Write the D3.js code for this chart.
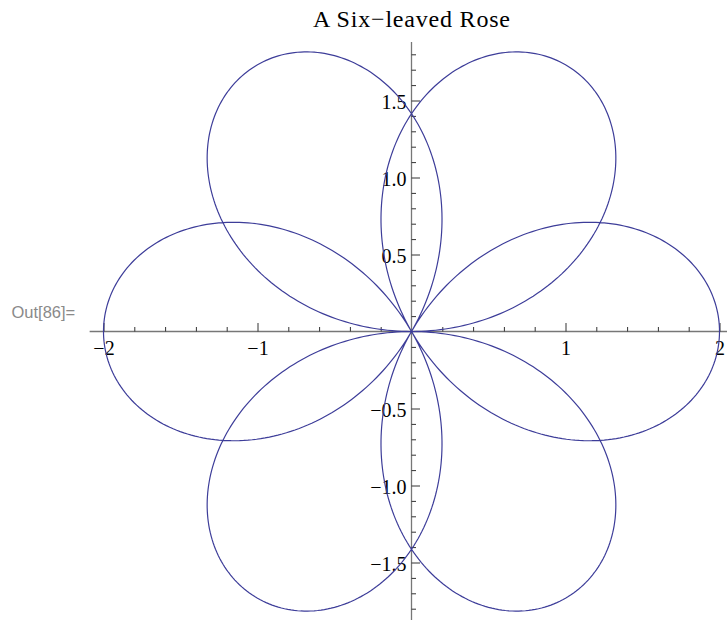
<!DOCTYPE html>
<html>
<head>
<meta charset="utf-8">
<script src="https://cdn.jsdelivr.net/npm/d3@7"></script>
<style>
  body { margin: 0; background: #fff; }
  svg { display: block; }
  .tick text { font-family: "Liberation Serif", "Times New Roman", serif; font-size: 20px; fill: #000; }
</style>
</head>
<body>
<div id="chart"></div>
<script>
// rose r = a cos(k theta), theta from 0 to 4 pi
var roseAmp = 2;
var roseK = 3 / 2;
var thetaEnd = 4 * Math.PI;
var nSamples = 1200;

// tick values
var xMajor = [-2, -1, 1, 2];
var xMinor = [-1.8, -1.6, -1.4, -1.2, -0.8, -0.6, -0.4, -0.2, 0.2, 0.4, 0.6, 0.8, 1.2, 1.4, 1.6, 1.8];
var yMajor = [-1.5, -1.0, -0.5, 0.5, 1.0, 1.5];
var yMinor = [-1.8, -1.7, -1.6, -1.4, -1.3, -1.2, -1.1, -0.9, -0.8, -0.7, -0.6, -0.4, -0.3, -0.2, -0.1,
              0.1, 0.2, 0.3, 0.4, 0.6, 0.7, 0.8, 0.9, 1.1, 1.2, 1.3, 1.4, 1.6, 1.7, 1.8];
var xAxisRange = [-2.09, 2.09];
var yAxisRange = [-1.9, 1.88];

var W = 727, H = 620;
var unit = 154, cx = 411.5, cy = 331.5;

var svg = d3.select('#chart')
    .append('svg')
    .attr('width', W)
    .attr('height', H);

var xScale = d3.scaleLinear().domain([-2, 2]).range([cx - 2 * unit, cx + 2 * unit]);
var yScale = d3.scaleLinear().domain([-1.8, 1.8]).range([cy + 1.8 * unit, cy - 1.8 * unit]);

// sample the polar curve
var pts = d3.range(nSamples + 1).map(function (i) {
    var t = thetaEnd * i / nSamples;
    var r = roseAmp * Math.cos(roseK * t);
    return [r * Math.cos(t), r * Math.sin(t)];
});

// axis lines
svg.append('line')
    .attr('x1', xScale(xAxisRange[0])).attr('x2', xScale(xAxisRange[1]))
    .attr('y1', yScale(0)).attr('y2', yScale(0))
    .attr('stroke', '#777').attr('stroke-width', 1.3);
svg.append('line')
    .attr('x1', xScale(0)).attr('x2', xScale(0))
    .attr('y1', yScale(yAxisRange[0])).attr('y2', yScale(yAxisRange[1]))
    .attr('stroke', '#777').attr('stroke-width', 1.3);

var fmtY = function (d) { return d3.format('.1f')(d).replace('-', '\u2212'); };
var fmtX = function (d) { return String(d).replace('-', '\u2212'); };

// x axis, ticks pointing up, labels below
svg.append('g')
    .attr('class', 'x minor')
    .attr('transform', `translate(0,${yScale(0)})`)
    .call(d3.axisBottom(xScale).tickValues(xMinor).tickSizeInner(-4.5).tickSizeOuter(0).tickFormat(''));
svg.append('g')
    .attr('class', 'x major')
    .attr('transform', `translate(0,${yScale(0)})`)
    .call(d3.axisBottom(xScale).tickValues(xMajor).tickSizeInner(-8.5).tickSizeOuter(0).tickPadding(9.5).tickFormat(fmtX));

// y axis, ticks pointing right, labels left
svg.append('g')
    .attr('class', 'y minor')
    .attr('transform', `translate(${xScale(0)},0)`)
    .call(d3.axisLeft(yScale).tickValues(yMinor).tickSizeInner(-4.5).tickSizeOuter(0).tickFormat(''));
svg.append('g')
    .attr('class', 'y major')
    .attr('transform', `translate(${xScale(0)},0)`)
    .call(d3.axisLeft(yScale).tickValues(yMajor).tickSizeInner(-8.5).tickSizeOuter(0).tickPadding(5).tickFormat(fmtY));

svg.selectAll('.y.major .tick text').attr('dy', '0.4em');
svg.selectAll('.domain').remove();
svg.selectAll('.tick line').attr('stroke', '#333').attr('stroke-width', 1);

// the rose
svg.append('path')
    .datum(pts)
    .attr('fill', 'none')
    .attr('stroke', '#3d3d99')
    .attr('stroke-width', 1.2)
    .attr('d', d3.line()
        .x(function (d) { return xScale(d[0]); })
        .y(function (d) { return yScale(d[1]); }));

// title
svg.append('text')
    .attr('x', cx)
    .attr('y', 26.7)
    .attr('text-anchor', 'middle')
    .attr('textLength', 197)
    .attr('lengthAdjust', 'spacing')
    .style('font-family', '"Liberation Serif", "Times New Roman", serif')
    .style('font-size', '24px')
    .text('A Six\u2212leaved Rose');

// cell label
svg.append('text')
    .attr('x', 11.5)
    .attr('y', 318.3)
    .style('font-family', '"Liberation Sans", Arial, sans-serif')
    .style('font-size', '16.5px')
    .style('fill', '#8a8a8a')
    .text('Out[86]=');
</script>
</body>
</html>
